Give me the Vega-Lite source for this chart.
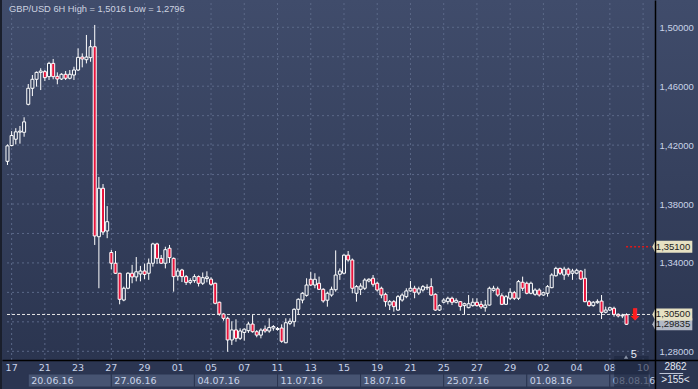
{
  "$schema": "https://vega.github.io/schema/vega-lite/v6.json",
  "width": 696,
  "height": 389,
  "autosize": {"type": "none"},
  "padding": {"left": 2, "top": 0, "right": 0, "bottom": 0},
  "background": "#1a1f2c",
  "config": {
    "view": {"stroke": null, "fill": {"gradient": "linear", "x1": 0, "y1": 0, "x2": 0, "y2": 1, "stops": [{"offset": 0, "color": "#404c6b"}, {"offset": 0.925, "color": "#2b3550"}, {"offset": 1, "color": "#2b3550"}]}},
    "axis": {"labelOverlap": false, "labelBound": false, "labelFlush": false}
  },
  "datasets": {
    "candles": [
      {"k":-1,"o":1.4090,"h":1.4205,"l":1.4065,"c":1.4195},
      {"k":0,"o":1.4197,"h":1.4295,"l":1.4192,"c":1.4265},
      {"k":1,"o":1.4240,"h":1.4315,"l":1.4205,"c":1.4290},
      {"k":2,"o":1.4288,"h":1.4330,"l":1.4210,"c":1.4295},
      {"k":3,"o":1.4287,"h":1.4389,"l":1.4257,"c":1.4358},
      {"k":4,"o":1.4477,"h":1.4615,"l":1.4470,"c":1.4586},
      {"k":5,"o":1.4586,"h":1.4676,"l":1.4533,"c":1.4647},
      {"k":6,"o":1.4647,"h":1.4700,"l":1.4597,"c":1.4694},
      {"k":7,"o":1.4694,"h":1.4722,"l":1.4574,"c":1.4703},
      {"k":8,"o":1.4699,"h":1.4710,"l":1.4635,"c":1.4658},
      {"k":9,"o":1.4665,"h":1.4766,"l":1.4642,"c":1.4755},
      {"k":10,"o":1.4755,"h":1.4785,"l":1.4647,"c":1.4665},
      {"k":11,"o":1.4667,"h":1.4694,"l":1.4613,"c":1.4649},
      {"k":12,"o":1.4649,"h":1.4688,"l":1.4642,"c":1.4681},
      {"k":13,"o":1.4681,"h":1.4703,"l":1.4642,"c":1.4654},
      {"k":14,"o":1.4654,"h":1.4710,"l":1.4647,"c":1.4681},
      {"k":15,"o":1.4676,"h":1.4732,"l":1.4642,"c":1.4710},
      {"k":16,"o":1.4710,"h":1.4857,"l":1.4703,"c":1.4796},
      {"k":17,"o":1.4798,"h":1.4823,"l":1.4728,"c":1.4785},
      {"k":18,"o":1.4780,"h":1.4948,"l":1.4755,"c":1.4798},
      {"k":19,"o":1.4794,"h":1.4914,"l":1.4766,"c":1.4868},
      {"k":20,"o":1.4868,"h":1.5016,"l":1.3522,"c":1.3583},
      {"k":21,"o":1.3578,"h":1.3984,"l":1.3228,"c":1.3907},
      {"k":22,"o":1.3907,"h":1.3936,"l":1.3590,"c":1.3610},
      {"k":23,"o":1.3617,"h":1.3786,"l":1.3568,"c":1.3680},
      {"k":24,"o":1.3471,"h":1.3488,"l":1.3357,"c":1.3398},
      {"k":25,"o":1.3398,"h":1.3481,"l":1.3325,"c":1.3330},
      {"k":26,"o":1.3330,"h":1.3332,"l":1.3119,"c":1.3153},
      {"k":27,"o":1.3148,"h":1.3239,"l":1.3140,"c":1.3228},
      {"k":28,"o":1.3228,"h":1.3337,"l":1.3221,"c":1.3330},
      {"k":29,"o":1.3330,"h":1.3387,"l":1.3262,"c":1.3305},
      {"k":30,"o":1.3305,"h":1.3440,"l":1.3275,"c":1.3340},
      {"k":31,"o":1.3325,"h":1.3380,"l":1.3275,"c":1.3345},
      {"k":32,"o":1.3345,"h":1.3395,"l":1.3290,"c":1.3322},
      {"k":33,"o":1.3330,"h":1.3430,"l":1.3285,"c":1.3398},
      {"k":34,"o":1.3398,"h":1.3537,"l":1.3375,"c":1.3529},
      {"k":35,"o":1.3529,"h":1.3537,"l":1.3393,"c":1.3431},
      {"k":36,"o":1.3431,"h":1.3454,"l":1.3393,"c":1.3398},
      {"k":37,"o":1.3398,"h":1.3510,"l":1.3363,"c":1.3490},
      {"k":38,"o":1.3500,"h":1.3522,"l":1.3400,"c":1.3436},
      {"k":39,"o":1.3431,"h":1.3437,"l":1.3205,"c":1.3307},
      {"k":40,"o":1.3310,"h":1.3363,"l":1.3280,"c":1.3345},
      {"k":41,"o":1.3352,"h":1.3360,"l":1.3270,"c":1.3307},
      {"k":42,"o":1.3307,"h":1.3318,"l":1.3250,"c":1.3268},
      {"k":43,"o":1.3268,"h":1.3296,"l":1.3255,"c":1.3280},
      {"k":44,"o":1.3280,"h":1.3323,"l":1.3265,"c":1.3307},
      {"k":45,"o":1.3307,"h":1.3315,"l":1.3240,"c":1.3262},
      {"k":46,"o":1.3262,"h":1.3335,"l":1.3250,"c":1.3300},
      {"k":47,"o":1.3294,"h":1.3343,"l":1.3268,"c":1.3305},
      {"k":48,"o":1.3290,"h":1.3303,"l":1.3245,"c":1.3255},
      {"k":49,"o":1.3262,"h":1.3266,"l":1.3119,"c":1.3126},
      {"k":50,"o":1.3133,"h":1.3137,"l":1.3042,"c":1.3053},
      {"k":51,"o":1.3053,"h":1.3058,"l":1.3008,"c":1.3024},
      {"k":52,"o":1.3024,"h":1.3035,"l":1.2797,"c":1.2877},
      {"k":53,"o":1.2877,"h":1.3004,"l":1.2843,"c":1.2945},
      {"k":54,"o":1.2945,"h":1.3017,"l":1.2865,"c":1.2888},
      {"k":55,"o":1.2888,"h":1.2956,"l":1.2877,"c":1.2938},
      {"k":56,"o":1.2928,"h":1.2956,"l":1.2872,"c":1.2950},
      {"k":57,"o":1.2940,"h":1.3000,"l":1.2925,"c":1.2985},
      {"k":58,"o":1.2985,"h":1.3046,"l":1.2926,"c":1.2933},
      {"k":59,"o":1.2933,"h":1.2944,"l":1.2895,"c":1.2910},
      {"k":60,"o":1.2910,"h":1.2956,"l":1.2888,"c":1.2944},
      {"k":61,"o":1.2951,"h":1.2975,"l":1.2926,"c":1.2938},
      {"k":62,"o":1.2938,"h":1.3024,"l":1.2926,"c":1.2962},
      {"k":63,"o":1.2958,"h":1.2978,"l":1.2940,"c":1.2968},
      {"k":64,"o":1.2948,"h":1.2965,"l":1.2940,"c":1.2955},
      {"k":65,"o":1.2958,"h":1.2983,"l":1.2858,"c":1.2868},
      {"k":66,"o":1.2858,"h":1.3024,"l":1.2855,"c":1.2994},
      {"k":67,"o":1.2990,"h":1.3024,"l":1.2978,"c":1.3004},
      {"k":68,"o":1.3001,"h":1.3092,"l":1.2967,"c":1.3085},
      {"k":69,"o":1.3085,"h":1.3160,"l":1.3053,"c":1.3153},
      {"k":70,"o":1.3148,"h":1.3201,"l":1.3126,"c":1.3194},
      {"k":71,"o":1.3180,"h":1.3296,"l":1.3171,"c":1.3250},
      {"k":72,"o":1.3289,"h":1.3340,"l":1.3243,"c":1.3250},
      {"k":73,"o":1.3250,"h":1.3330,"l":1.3228,"c":1.3289},
      {"k":74,"o":1.3262,"h":1.3307,"l":1.3216,"c":1.3221},
      {"k":75,"o":1.3221,"h":1.3228,"l":1.3130,"c":1.3142},
      {"k":76,"o":1.3147,"h":1.3205,"l":1.3103,"c":1.3194},
      {"k":77,"o":1.3182,"h":1.3239,"l":1.3171,"c":1.3221},
      {"k":78,"o":1.3218,"h":1.3485,"l":1.3205,"c":1.3318},
      {"k":79,"o":1.3323,"h":1.3363,"l":1.3285,"c":1.3345},
      {"k":80,"o":1.3330,"h":1.3458,"l":1.3323,"c":1.3453},
      {"k":81,"o":1.3453,"h":1.3481,"l":1.3408,"c":1.3420},
      {"k":82,"o":1.3420,"h":1.3430,"l":1.3194,"c":1.3228},
      {"k":83,"o":1.3194,"h":1.3250,"l":1.3137,"c":1.3239},
      {"k":84,"o":1.3221,"h":1.3262,"l":1.3182,"c":1.3243},
      {"k":85,"o":1.3228,"h":1.3296,"l":1.3216,"c":1.3284},
      {"k":86,"o":1.3277,"h":1.3296,"l":1.3268,"c":1.3289},
      {"k":87,"o":1.3296,"h":1.3318,"l":1.3239,"c":1.3255},
      {"k":88,"o":1.3262,"h":1.3273,"l":1.3205,"c":1.3216},
      {"k":89,"o":1.3228,"h":1.3239,"l":1.3160,"c":1.3182},
      {"k":90,"o":1.3187,"h":1.3198,"l":1.3103,"c":1.3137},
      {"k":91,"o":1.3114,"h":1.3148,"l":1.3080,"c":1.3137},
      {"k":92,"o":1.3137,"h":1.3148,"l":1.3069,"c":1.3103},
      {"k":93,"o":1.3080,"h":1.3182,"l":1.3074,"c":1.3171},
      {"k":94,"o":1.3148,"h":1.3194,"l":1.3137,"c":1.3182},
      {"k":95,"o":1.3171,"h":1.3228,"l":1.3160,"c":1.3210},
      {"k":96,"o":1.3210,"h":1.3277,"l":1.3205,"c":1.3228},
      {"k":97,"o":1.3228,"h":1.3245,"l":1.3160,"c":1.3201},
      {"k":98,"o":1.3196,"h":1.3239,"l":1.3182,"c":1.3224},
      {"k":99,"o":1.3216,"h":1.3250,"l":1.3205,"c":1.3239},
      {"k":100,"o":1.3231,"h":1.3255,"l":1.3216,"c":1.3235},
      {"k":101,"o":1.3239,"h":1.3296,"l":1.3177,"c":1.3182},
      {"k":102,"o":1.3187,"h":1.3194,"l":1.3074,"c":1.3080},
      {"k":103,"o":1.3080,"h":1.3119,"l":1.3074,"c":1.3110},
      {"k":104,"o":1.3133,"h":1.3160,"l":1.3126,"c":1.3148},
      {"k":105,"o":1.3137,"h":1.3171,"l":1.3119,"c":1.3160},
      {"k":106,"o":1.3160,"h":1.3171,"l":1.3114,"c":1.3133},
      {"k":107,"o":1.3133,"h":1.3160,"l":1.3126,"c":1.3146},
      {"k":108,"o":1.3137,"h":1.3141,"l":1.3076,"c":1.3105},
      {"k":109,"o":1.3110,"h":1.3130,"l":1.3051,"c":1.3123},
      {"k":110,"o":1.3096,"h":1.3182,"l":1.3092,"c":1.3123},
      {"k":111,"o":1.3110,"h":1.3160,"l":1.3103,"c":1.3133},
      {"k":112,"o":1.3133,"h":1.3160,"l":1.3103,"c":1.3110},
      {"k":113,"o":1.3119,"h":1.3141,"l":1.3087,"c":1.3101},
      {"k":114,"o":1.3096,"h":1.3148,"l":1.3069,"c":1.3114},
      {"k":115,"o":1.3114,"h":1.3239,"l":1.3110,"c":1.3228},
      {"k":116,"o":1.3214,"h":1.3245,"l":1.3205,"c":1.3228},
      {"k":117,"o":1.3224,"h":1.3239,"l":1.3171,"c":1.3182},
      {"k":118,"o":1.3177,"h":1.3194,"l":1.3114,"c":1.3119},
      {"k":119,"o":1.3119,"h":1.3182,"l":1.3114,"c":1.3171},
      {"k":120,"o":1.3160,"h":1.3228,"l":1.3148,"c":1.3201},
      {"k":121,"o":1.3198,"h":1.3210,"l":1.3148,"c":1.3160},
      {"k":122,"o":1.3160,"h":1.3284,"l":1.3148,"c":1.3273},
      {"k":123,"o":1.3269,"h":1.3307,"l":1.3210,"c":1.3228},
      {"k":124,"o":1.3262,"h":1.3273,"l":1.3187,"c":1.3194},
      {"k":125,"o":1.3194,"h":1.3273,"l":1.3187,"c":1.3262},
      {"k":126,"o":1.3187,"h":1.3228,"l":1.3177,"c":1.3216},
      {"k":127,"o":1.3216,"h":1.3228,"l":1.3171,"c":1.3182},
      {"k":128,"o":1.3182,"h":1.3205,"l":1.3177,"c":1.3198},
      {"k":129,"o":1.3194,"h":1.3250,"l":1.3171,"c":1.3239},
      {"k":130,"o":1.3232,"h":1.3330,"l":1.3228,"c":1.3318},
      {"k":131,"o":1.3313,"h":1.3374,"l":1.3307,"c":1.3363},
      {"k":132,"o":1.3363,"h":1.3368,"l":1.3318,"c":1.3330},
      {"k":133,"o":1.3318,"h":1.3374,"l":1.3285,"c":1.3358},
      {"k":134,"o":1.3358,"h":1.3368,"l":1.3307,"c":1.3323},
      {"k":135,"o":1.3330,"h":1.3360,"l":1.3285,"c":1.3345},
      {"k":136,"o":1.3330,"h":1.3360,"l":1.3323,"c":1.3350},
      {"k":137,"o":1.3345,"h":1.3352,"l":1.3285,"c":1.3291},
      {"k":138,"o":1.3296,"h":1.3360,"l":1.3133,"c":1.3137},
      {"k":139,"o":1.3137,"h":1.3148,"l":1.3103,"c":1.3110},
      {"k":140,"o":1.3110,"h":1.3141,"l":1.3103,"c":1.3133},
      {"k":141,"o":1.3130,"h":1.3153,"l":1.3123,"c":1.3139},
      {"k":142,"o":1.3141,"h":1.3182,"l":1.3019,"c":1.3065},
      {"k":143,"o":1.3065,"h":1.3103,"l":1.3058,"c":1.3080},
      {"k":144,"o":1.3080,"h":1.3103,"l":1.3074,"c":1.3096},
      {"k":145,"o":1.3092,"h":1.3103,"l":1.3035,"c":1.3051},
      {"k":146,"o":1.3051,"h":1.3058,"l":1.3030,"c":1.3040},
      {"k":147,"o":1.3040,"h":1.3055,"l":1.3025,"c":1.3045},
      {"k":148,"o":1.3048,"h":1.3058,"l":1.2979,"c":1.29835}
    ],
    "ygrid": [{"p":1.28},{"p":1.30},{"p":1.32},{"p":1.34},{"p":1.36},{"p":1.38},{"p":1.40},{"p":1.42},{"p":1.44},{"p":1.46},{"p":1.48},{"p":1.50}],
    "days": [
      {"k":0,"d":"17"},{"k":8,"d":"21"},{"k":16,"d":"23"},{"k":24,"d":"27"},{"k":32,"d":"29"},
      {"k":40,"d":"01"},{"k":48,"d":"05"},{"k":56,"d":"07"},{"k":64,"d":"11"},{"k":72,"d":"13"},
      {"k":80,"d":"15"},{"k":88,"d":"19"},{"k":96,"d":"21"},{"k":104,"d":"25"},{"k":112,"d":"27"},
      {"k":120,"d":"29"},{"k":128,"d":"02"},{"k":136,"d":"04"},{"k":144,"d":"08"},{"k":152,"d":"10"}
    ],
    "weeks": [
      {"k0":4,"k1":24,"label":"20.06.16"},
      {"k0":24,"k1":44,"label":"27.06.16"},
      {"k0":44,"k1":64,"label":"04.07.16"},
      {"k0":64,"k1":84,"label":"11.07.16"},
      {"k0":84,"k1":104,"label":"18.07.16"},
      {"k0":104,"k1":124,"label":"25.07.16"},
      {"k0":124,"k1":144,"label":"01.08.16"},
      {"k0":144,"k1":153.81,"label":"08.08.16"}
    ],
    "tags": [
      {"p":1.29835,"label":"1,29835","kind":"bid"},
      {"p":1.305,"label":"1,30500","kind":"level"},
      {"p":1.351,"label":"1,35100","kind":"level"}
    ]
  },
  "layer": [
    {
      "data": {"values": [{"part": "bottom"}]},
      "mark": {"type": "rect", "fill": "#2b3551"},
      "encoding": {
        "x": {"datum": -1.1151, "scale": {"type": "linear", "domain": [-1.1151, 164.01], "nice": false, "zero": false}, "axis": {"orient": "bottom", "offset": -29, "labels": false, "ticks": false, "grid": false, "domain": true, "domainColor": "#000000", "domainWidth": 1.5, "title": null, "zindex": 1}},
        "x2": {"datum": 164.01},
        "y": {"datum": 1.254397, "scale": {"type": "linear", "domain": [1.254397, 1.518537], "nice": false, "zero": false}, "axis": {"orient": "right", "offset": -43, "values": [1.28,1.32,1.34,1.36,1.38,1.40,1.42,1.44,1.46,1.48,1.50], "labelExpr": "replace(format(datum.value, '.5f'), '.', ',')", "ticks": false, "grid": false, "domain": true, "domainColor": "#000000", "domainWidth": 1.5, "labelColor": "#c9d3e8", "labelFont": "Liberation Sans", "labelFontSize": 9.5, "labelPadding": 4, "labelAlign": "left", "labelBaseline": "middle", "labelOverlap": false, "labelBound": false, "labelFlush": false, "title": null, "zindex": 1}},
        "y2": {"datum": 1.274085}
      }
    },
    {
      "data": {"name": "weeks"},
      "mark": {"type": "rect", "fill": "#475472", "stroke": "#2b3551", "strokeWidth": 1},
      "encoding": {
        "x": {"field": "k0", "type": "quantitative", "title": null},
        "x2": {"field": "k1"},
        "y": {"datum": 1.255752},
        "y2": {"datum": 1.264579}
      }
    },
    {
      "data": {"name": "ygrid"},
      "mark": {"type": "rule", "stroke": "#5b6888", "strokeWidth": 1, "strokeDash": [2, 3]},
      "encoding": {
        "y": {"field": "p", "type": "quantitative", "title": null},
        "x": {"datum": -1.1151},
        "x2": {"datum": 153.81}
      }
    },
    {
      "data": {"name": "days"},
      "mark": {"type": "rule", "stroke": "#5b6888", "strokeWidth": 1, "strokeDash": [2, 3]},
      "encoding": {
        "x": {"field": "k", "type": "quantitative", "title": null},
        "y": {"datum": 1.274085},
        "y2": {"datum": 1.518537}
      }
    },
    {
      "data": {"values": [{"p": 1.305}]},
      "mark": {"type": "rule", "stroke": "#e6e6e6", "strokeWidth": 1, "strokeDash": [3, 2]},
      "encoding": {
        "y": {"field": "p", "type": "quantitative", "title": null},
        "x": {"datum": -1.1151},
        "x2": {"datum": 153.81}
      }
    },
    {
      "data": {"values": [{"p": 1.351}]},
      "mark": {"type": "rule", "stroke": "#e01818", "strokeWidth": 1.5, "strokeDash": [2, 2]},
      "encoding": {
        "y": {"field": "p", "type": "quantitative", "title": null},
        "x": {"datum": 147.9},
        "x2": {"datum": 153.81}
      }
    },
    {
      "data": {"name": "candles"},
      "mark": {"type": "rule", "stroke": "#ffffff", "strokeWidth": 1, "clip": true},
      "encoding": {
        "x": {"field": "k", "type": "quantitative", "title": null},
        "y": {"field": "l", "type": "quantitative", "title": null},
        "y2": {"field": "h"}
      }
    },
    {
      "data": {"name": "candles"},
      "mark": {"type": "bar", "size": 3, "stroke": "#ffffff", "strokeWidth": 1, "clip": true},
      "encoding": {
        "x": {"field": "k", "type": "quantitative", "title": null},
        "y": {"field": "o", "type": "quantitative", "title": null},
        "y2": {"field": "c"},
        "fill": {"condition": {"test": "datum.c < datum.o", "value": "#e8143c"}, "value": "#333f5c"}
      }
    },
    {
      "data": {"values": [{"title": "GBP/USD 6H  High = 1,5016 Low = 1,2796"}]},
      "mark": {"type": "text", "font": "Liberation Sans", "fontSize": 9.3, "color": "#cdd3e0", "baseline": "alphabetic", "align": "left"},
      "encoding": {
        "text": {"field": "title"},
        "x": {"datum": -0.64},
        "y": {"datum": 1.51039}
      }
    },
    {
      "data": {"values": [{"sym": "⬇"}]},
      "mark": {"type": "text", "color": "#ff1e1e", "font": "DejaVu Sans", "fontSize": 16, "fontWeight": "bold", "baseline": "middle", "align": "center"},
      "encoding": {
        "text": {"field": "sym"},
        "x": {"datum": 149.9},
        "y": {"datum": 1.30475}
      }
    },
    {
      "data": {"name": "tags"},
      "mark": {"type": "point", "shape": "M-1,0L-0.85,-0.3L1,-0.3L1,0.3L-0.85,0.3Z", "size": 1600, "filled": true, "opacity": 1, "strokeWidth": 0},
      "encoding": {
        "y": {"field": "p", "type": "quantitative", "title": null},
        "x": {"datum": 159.03},
        "fill": {"condition": {"test": "datum.kind == 'bid'", "value": "#b3b9c6"}, "value": "#e6e1c3"}
      }
    },
    {
      "data": {"name": "tags"},
      "mark": {"type": "text", "font": "Liberation Sans", "fontSize": 9.5, "color": "#1c1c1c", "baseline": "middle", "align": "center"},
      "encoding": {
        "y": {"field": "p", "type": "quantitative", "title": null},
        "x": {"datum": 159.2},
        "text": {"field": "label"}
      }
    },
    {
      "data": {"name": "days"},
      "mark": {"type": "text", "font": "DejaVu Sans", "fontSize": 9.5, "color": "#c9d3e8", "baseline": "middle", "align": "center"},
      "encoding": {
        "x": {"field": "k", "type": "quantitative", "title": null},
        "y": {"datum": 1.26845},
        "text": {"field": "d"}
      }
    },
    {
      "data": {"name": "weeks"},
      "mark": {"type": "text", "font": "DejaVu Sans", "fontSize": 9.5, "color": "#c9d3e8", "baseline": "middle", "align": "left", "dx": 3},
      "encoding": {
        "x": {"field": "k0", "type": "quantitative", "title": null},
        "y": {"datum": 1.2601},
        "text": {"field": "label"}
      }
    },
    {
      "data": {"values": [{"part": "scroll"}]},
      "mark": {"type": "rect", "fill": "#1c2740", "opacity": 0.6},
      "encoding": {
        "x": {"datum": 145.03},
        "x2": {"datum": 153.33},
        "y": {"datum": 1.25575},
        "y2": {"datum": 1.2768}
      }
    },
    {
      "data": {"values": [{"t": "5"}]},
      "mark": {"type": "text", "font": "Liberation Sans", "fontSize": 11, "color": "#e8ecf4", "baseline": "middle", "align": "center"},
      "encoding": {
        "x": {"datum": 149.77},
        "y": {"datum": 1.27782},
        "text": {"field": "t"}
      }
    },
    {
      "data": {"values": [{"t": "marker"}]},
      "mark": {"type": "point", "shape": "triangle-up", "size": 18, "filled": true, "color": "#8b95a8", "opacity": 1},
      "encoding": {
        "x": {"datum": 147.9},
        "y": {"datum": 1.27612}
      }
    },
    {
      "data": {"values": [{"t": "2862", "p": 1.2690}, {"t": ">155<", "p": 1.2603}]},
      "mark": {"type": "text", "font": "Liberation Sans", "fontSize": 10, "color": "#e3e8f2", "baseline": "middle", "align": "center"},
      "encoding": {
        "x": {"datum": 159.8},
        "y": {"field": "p", "type": "quantitative", "title": null},
        "text": {"field": "t"}
      }
    },
    {
      "data": {"values": [{"p": 1.26493}]},
      "mark": {"type": "rule", "stroke": "#c0c8d8", "strokeWidth": 1},
      "encoding": {
        "y": {"field": "p", "type": "quantitative", "title": null},
        "x": {"datum": 155.94},
        "x2": {"datum": 161.64}
      }
    }
  ]
}
